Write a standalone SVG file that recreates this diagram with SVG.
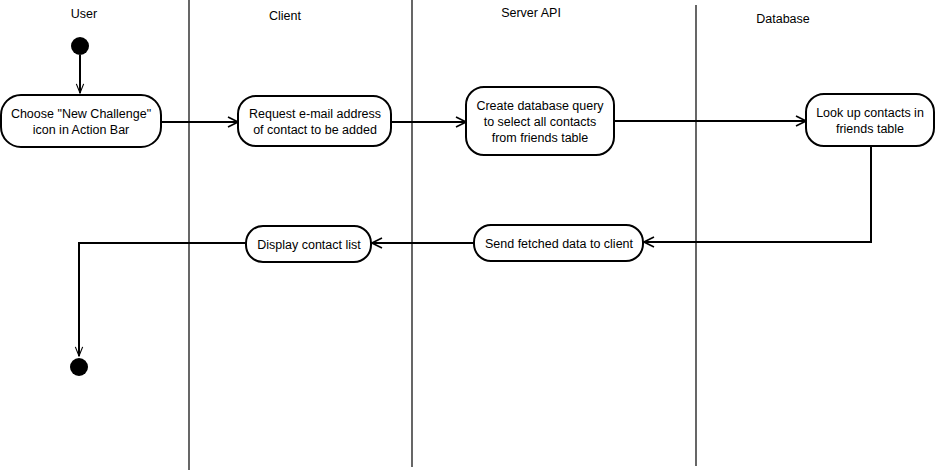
<svg xmlns="http://www.w3.org/2000/svg" width="938" height="474" viewBox="0 0 938 474">
<style>
.lane{stroke:#000;stroke-width:1.2;fill:none}
.node{fill:#fff;stroke:#000;stroke-width:2}
.t{font-family:"Liberation Sans",Arial,sans-serif;font-size:12.5px;fill:#000;text-anchor:middle}
.h{font-family:"Liberation Sans",Arial,sans-serif;font-size:12.5px;fill:#000;text-anchor:middle}
.c{stroke:#000;stroke-width:2;fill:none}
.dot{fill:#000}
</style>
<defs>
<marker id="ah" viewBox="0 0 12 12" refX="11" refY="6" markerWidth="12" markerHeight="12" markerUnits="userSpaceOnUse" orient="auto">
<path d="M1,1 L11,6 L1,11" fill="none" stroke="#000" stroke-width="1.6"/>
</marker>
<marker id="ahs" viewBox="0 0 12 12" refX="11" refY="6" markerWidth="11" markerHeight="11" markerUnits="userSpaceOnUse" orient="auto">
<path d="M1,2 L11,6 L1,10" fill="none" stroke="#000" stroke-width="1.2"/>
</marker>
</defs>
<rect width="938" height="474" fill="#fff"/>
<g id="lanes">
<line class="lane" x1="189" y1="0" x2="189" y2="470"/>
<line class="lane" x1="412" y1="0" x2="412" y2="467"/>
<line class="lane" x1="696" y1="5" x2="696" y2="466"/>
<text class="h" x="84" y="18">User</text>
<text class="h" x="285" y="20">Client</text>
<text class="h" x="531" y="17">Server API</text>
<text class="h" x="783" y="23">Database</text>
</g>
<g id="connectors">
<line class="c" x1="80" y1="55" x2="80" y2="93" marker-end="url(#ahs)" stroke-width="1.5"/>
<line class="c" x1="161" y1="122" x2="238" y2="122" marker-end="url(#ah)"/>
<line class="c" x1="391" y1="122" x2="466" y2="122" marker-end="url(#ah)"/>
<line class="c" x1="614" y1="121" x2="806" y2="121" marker-end="url(#ah)"/>
<polyline class="c" points="871,146 871,242 644,242" marker-end="url(#ah)"/>
<line class="c" x1="474" y1="243" x2="372" y2="243" marker-end="url(#ah)"/>
<polyline class="c" points="246,243 79,243 79,356" marker-end="url(#ahs)"/>
</g>
<g id="start"><circle class="dot" cx="80" cy="46" r="9"/></g>
<g id="n1">
<rect class="node" x="1" y="95" width="160" height="52" rx="20" ry="20"/>
<text class="t" x="81" y="118">Choose "New Challenge"</text>
<text class="t" x="81" y="134">icon in Action Bar</text>
</g>
<g id="n2">
<rect class="node" x="238" y="96" width="153" height="50" rx="18" ry="18"/>
<text class="t" x="315" y="118">Request e-mail address</text>
<text class="t" x="315" y="134">of contact to be added</text>
</g>
<g id="n3">
<rect class="node" x="466" y="87" width="148" height="68" rx="18" ry="18"/>
<text class="t" x="540" y="110">Create database query</text>
<text class="t" x="540" y="126">to select all contacts</text>
<text class="t" x="540" y="142">from friends table</text>
</g>
<g id="n4">
<rect class="node" x="806" y="94" width="128" height="52" rx="18" ry="18"/>
<text class="t" x="870" y="117">Look up contacts in</text>
<text class="t" x="870" y="133">friends table</text>
</g>
<g id="n5">
<rect class="node" x="474" y="225" width="169" height="36" rx="17" ry="17"/>
<text class="t" x="559" y="248">Send fetched data to client</text>
</g>
<g id="n6">
<rect class="node" x="246" y="226" width="125" height="36" rx="17" ry="17"/>
<text class="t" x="309" y="249">Display contact list</text>
</g>
<g id="end"><circle class="dot" cx="79" cy="367" r="9"/></g>
</svg>
